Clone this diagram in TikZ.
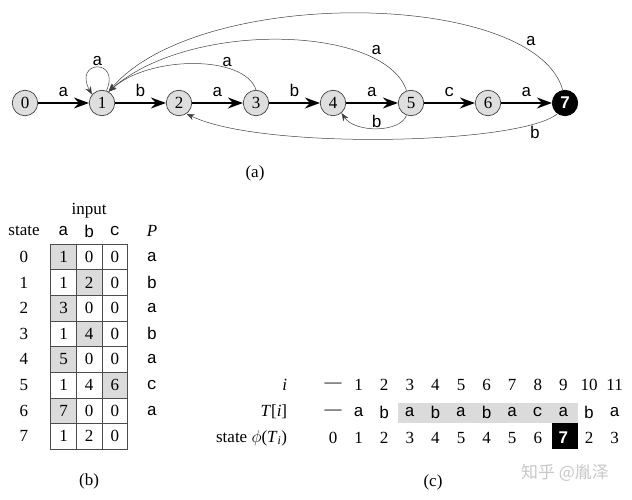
\documentclass[tikz,border=0pt]{standalone}
\usepackage{fontspec}
\setmainfont{Liberation Serif}
\setsansfont{Liberation Sans}
\setmonofont{Liberation Mono}
\newfontfamily\cjk{Noto Sans CJK SC}
\usetikzlibrary{arrows.meta}

\begin{document}
\fontsize{17}{20}\selectfont
\begin{tikzpicture}[x=1pt,y=-1pt,
  state/.style={circle,draw=black!75,fill=black!13,line width=0.7pt,minimum size=25.5pt,inner sep=0pt},
  final/.style={state,draw=black,fill=black},
  fwd/.style={line width=1.8pt,-{Stealth[length=15pt,width=11pt,inset=5pt]}},
  back/.style={line width=0.5pt,draw=black!75,-{Stealth[length=8pt,width=6pt,inset=2.5pt]}},
  cell/.style={draw=black!70,line width=0.6pt,minimum width=25.7pt,minimum height=25.65pt,inner sep=0pt},
  shade/.style={fill=black!14}]

\useasboundingbox (0,0) rectangle (632,500);

\node[state] (s0) at (25,103) {0};
\node[state] (s1) at (102,103) {1};
\node[state] (s2) at (179,103) {2};
\node[state] (s3) at (256,103) {3};
\node[state] (s4) at (333,103) {4};
\node[state] (s5) at (411,103) {5};
\node[state] (s6) at (488,103) {6};
\node[final] (s7) at (565,103) {\sffamily\bfseries\color{white}7};

\draw[fwd] (s0) to node[above=0pt] {\texttt{a}} (s1);
\draw[fwd] (s1) to node[above=0pt] {\texttt{b}} (s2);
\draw[fwd] (s2) to node[above=0pt] {\texttt{a}} (s3);
\draw[fwd] (s3) to node[above=0pt] {\texttt{b}} (s4);
\draw[fwd] (s4) to node[above=0pt] {\texttt{a}} (s5);
\draw[fwd] (s5) to node[above=0pt] {\texttt{c}} (s6);
\draw[fwd] (s6) to node[above=0pt] {\texttt{a}} (s7);

\draw[back] (s1.70) .. controls (121,58) and (73,60) .. node[above,inner sep=1pt] {\texttt{a}} (s1.140);
\draw[back] (s3.north) .. controls (245,55) and (150,55) .. node[pos=0.3,above,inner sep=1pt] {\texttt{a}} (s1.60);
\draw[back] (s5.110) .. controls (385,25) and (190,20) .. node[pos=0.22,above right,inner sep=1pt] {\texttt{a}} (s1.60);
\draw[back] (s7.100) .. controls (535,-10) and (200,-15) .. node[pos=0.17,above right,inner sep=1pt] {\texttt{a}} (s1.60);
\draw[back] (s5.-110) .. controls (400,133) and (355,133) .. node[above,inner sep=0pt] {\texttt{b}} (s4.-50);
\draw[back] (s7.-125) .. controls (520,145) and (260,150) .. node[pos=0.12,below,inner sep=2pt] {\texttt{b}} (s2.-55);

\node (capa) at (255,173) {(a)};

\node (input) at (89,211) {input};
\node (hstate) at (24,231) {state};
\node (ha) at (63.5,231) {\texttt{a}};
\node (hb) at (89.2,231) {\texttt{b}};
\node (hc) at (114.9,231) {\texttt{c}};
\node (hp) at (152,231) {\textit{P}};

\foreach \r/\va/\vb/\vc/\p/\sh in {0/1/0/0/a/1,1/1/2/0/b/2,2/3/0/0/a/1,3/1/4/0/b/2,4/5/0/0/a/1,5/1/4/6/c/3,6/7/0/0/a/1,7/1/2/0//0}{
  \ifnum\sh>0
    \fill[shade] (50.65+25.7*\sh-25.7,244+25.65*\r) rectangle +(25.7,25.65);
  \fi
  \node (q\r) at (24,256.8+25.65*\r) {\r};
  \node[cell] (ca\r) at (63.5,256.8+25.65*\r) {\va};
  \node[cell] (cb\r) at (89.2,256.8+25.65*\r) {\vb};
  \node[cell] (cc\r) at (114.9,256.8+25.65*\r) {\vc};
  \node (p\r) at (152,256.8+25.65*\r) {\texttt{\p}};
}

\node (capb) at (89,481) {(b)};

\fill[shade] (398,403) rectangle (578,423);
\fill[black] (552,423) rectangle (578,449);

\node[anchor=east] (li) at (293,385) {\textit{i}};
\node[anchor=east] (lt) at (293,412) {\textit{T}[\textit{i}]};
\node[anchor=east] (ls) at (293,438) {state $\phi$(\textit{T}\textsubscript{\textit{i}})};

\foreach \v [count=\k from 0] in {---,1,2,3,4,5,6,7,8,9,10,11}
  \node (i\k) at (333+25.6*\k,385) {\v};
\foreach \v [count=\k from 0] in {---,a,b,a,b,a,b,a,c,a,b,a}
  \node (t\k) at (333+25.6*\k,412) {\ifnum\k=0 \v\else\texttt{\v}\fi};
\foreach \v [count=\k from 0] in {0,1,2,3,4,5,4,5,6,7,2,3}
  \node (f\k) at (333+25.6*\k,438) {\ifnum\k=9 \sffamily\bfseries\color{white}\v\else\v\fi};

\node (capc) at (433,482) {(c)};
\node[text=black!22] (mark) at (565,473) {\cjk 知乎 @胤泽};

\end{tikzpicture}
\end{document}
